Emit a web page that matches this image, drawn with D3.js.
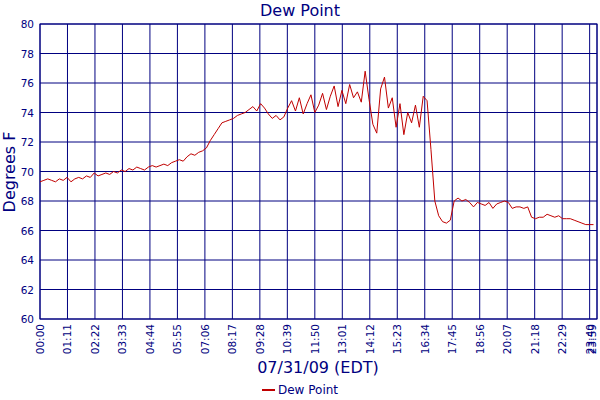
<!DOCTYPE html><html><head><meta charset="utf-8">
<script src="https://cdn.jsdelivr.net/npm/d3@7"></script>
<style>body{margin:0;background:#fff}text{font-family:"DejaVu Sans",Verdana,sans-serif}</style></head><body>
<svg id="c" width="600" height="400"></svg>
<script>
const stepMinutes = 10;
const dewPoint = [
69.3,69.4,69.5,69.4,69.3,69.5, 69.4,69.6,69.3,69.5,69.6,69.5,
69.7,69.6,69.9,69.7,69.8,69.9, 69.8,70.0,69.9,70.1,70.0,70.2,
70.1,70.3,70.2,70.1,70.3,70.4, 70.3,70.4,70.5,70.4,70.6,70.7,
70.8,70.7,71.0,71.2,71.1,71.3, 71.4,71.6,72.1,72.5,72.9,73.3,
73.4,73.5,73.6,73.8,73.9,74.0, 74.2,74.4,74.1,74.6,74.3,73.9,
73.6,73.8,73.5,73.7,74.3,74.8, 74.1,75.0,73.9,74.6,75.2,74.0,
74.5,75.3,74.2,75.1,75.8,74.4, 75.5,74.6,75.9,75.0,75.4,74.7,
76.8,74.9,73.2,72.6,75.6,76.4, 74.3,75.0,73.0,74.6,72.5,74.0,
73.3,74.5,73.0,75.1,74.8,71.5, 68.0,67.0,66.6,66.5,66.7,68.0,
68.2,68.0,68.1,67.9,67.6,67.9, 67.8,67.7,67.9,67.5,67.8,67.9,
68.0,67.9,67.5,67.6,67.6,67.5, 67.6,66.9,66.8,66.9,66.9,67.1,
67.0,66.9,67.0,66.8,66.8,66.8, 66.7,66.6,66.5,66.4,66.4,66.4];
const xTickMinutes = [0,71,142,213,284,355,426,497,568,639,710,781,852,923,994,1065,1136,1207,1278,1349,1420,1439];
const yTicks = [60,62,64,66,68,70,72,74,76,78,80];
const navy = "#000080";
const svg = d3.select("#c");
const L=40,R=597,T=24,B=319;
const x = d3.scaleLinear().domain([0,1439]).range([L,R]);
const y = d3.scaleLinear().domain([60,80]).range([B,T]);
const fmt = m => String(Math.floor(m/60)).padStart(2,"0")+":"+String(m%60).padStart(2,"0");
const g = svg.append("g");
g.selectAll(".h").data(yTicks).join("line").attr("x1",L).attr("x2",R).attr("y1",d=>y(d)).attr("y2",d=>y(d)).attr("stroke",navy);
g.selectAll(".v").data(xTickMinutes).join("line").attr("x1",d=>x(d)).attr("x2",d=>x(d)).attr("y1",T).attr("y2",B).attr("stroke",navy);
g.append("rect").attr("x",L).attr("y",T).attr("width",R-L).attr("height",B-T).attr("fill","none").attr("stroke",navy);
svg.selectAll(".yl").data(yTicks).join("text").attr("x",L-6).attr("y",d=>y(d)+4).attr("text-anchor","end").attr("font-size",10.5).attr("fill",navy).text(d=>d);
svg.selectAll(".xl").data(xTickMinutes).join("text").attr("transform",d=>`translate(${Math.min(x(d)+4,596)},${B+5}) rotate(-90)`).attr("text-anchor","end").attr("font-size",10.5).attr("fill",navy).text(d=>fmt(d));
const pts = dewPoint.map((v,i)=>[i*stepMinutes,v]);
svg.append("path").datum(pts).attr("d",d3.line().x(d=>x(d[0])).y(d=>y(d[1]))).attr("fill","none").attr("stroke","#c00000").attr("stroke-width",1);
svg.append("text").attr("x",300).attr("y",16).attr("text-anchor","middle").attr("font-size",16).attr("fill",navy).text("Dew Point");
svg.append("text").attr("x",318).attr("y",373).attr("text-anchor","middle").attr("font-size",16).attr("fill",navy).text("07/31/09 (EDT)");
svg.append("text").attr("transform","translate(15,172) rotate(-90)").attr("text-anchor","middle").attr("font-size",16).attr("fill",navy).text("Degrees F");
svg.append("line").attr("x1",262).attr("x2",275).attr("y1",390).attr("y2",390).attr("stroke","#c00000").attr("stroke-width",2);
svg.append("text").attr("x",278).attr("y",394).attr("font-size",12).attr("fill",navy).text("Dew Point");
</script></body></html>
